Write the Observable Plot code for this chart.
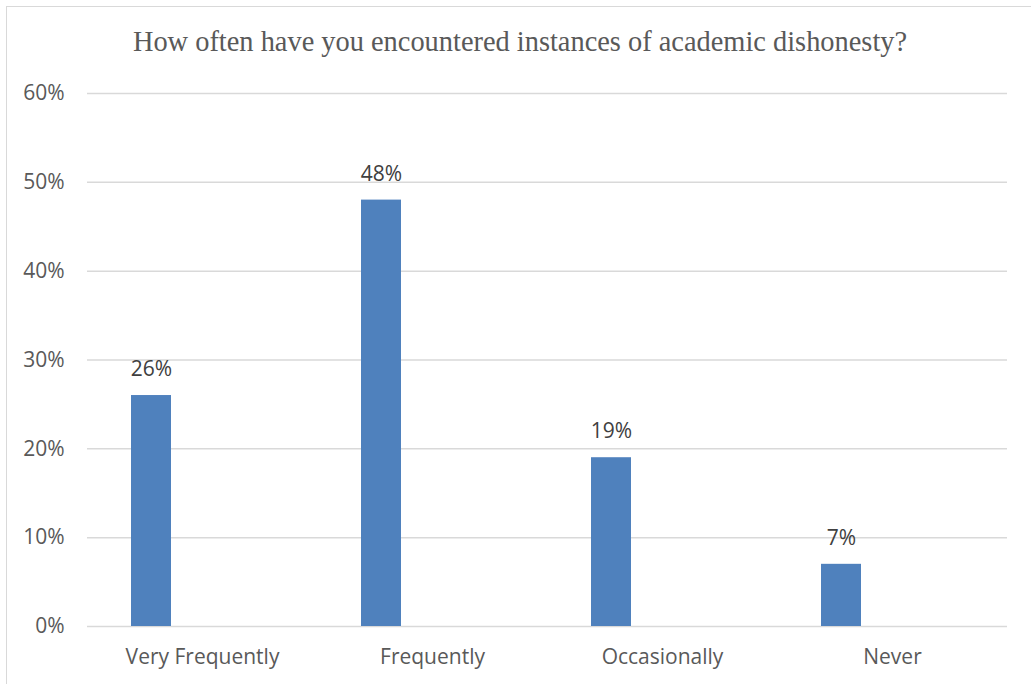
<!DOCTYPE html>
<html>
<head>
<meta charset="utf-8">
<script src="https://cdn.jsdelivr.net/npm/d3@7"></script>
<script src="https://cdn.jsdelivr.net/npm/@observablehq/plot@0.6"></script>
<style>
  html, body { margin: 0; padding: 0; background: #fff; overflow: hidden; }
  #frame { position: absolute; left: 6px; top: 6px; width: 1040px; height: 700px; border: 1px solid #d9d9d9; box-sizing: border-box; }
  #title { position: absolute; left: 0; top: 26px; width: 1040px; text-align: center; font-family: "Liberation Serif", serif; font-size: 28.4px; color: #595959; white-space: nowrap; }
  #plot { position: absolute; left: 0; top: 70px; }
</style>
</head>
<body>
<div id="frame"></div>
<div id="title">How often have you encountered instances of academic dishonesty?</div>
<div id="plot"></div>
<script>
const categories = ["Very Frequently", "Frequently", "Occasionally", "Never"];
const values = [0.26, 0.48, 0.19, 0.07];
const yTicks = [0, 0.1, 0.2, 0.3, 0.4, 0.5, 0.6];

const data = categories.map((c, i) => ({category: c, value: values[i]}));
const pct = d3.format(".0%");

const chart = Plot.plot({
  width: 1031,
  height: 614,
  marginTop: 23,
  marginBottom: 58,
  marginLeft: 87,
  marginRight: 24,
  style: {fontFamily: "'Open Sans', sans-serif", fontSize: "21px", color: "#595959", background: "transparent"},
  x: {domain: categories, padding: 0, label: null, tickSize: 0, tickPadding: 23},
  y: {domain: [0, 0.6], ticks: yTicks, tickFormat: pct, label: null, tickSize: 0, tickPadding: 23},
  marks: [
    Plot.gridY(yTicks, {stroke: "#d9d9d9", strokeOpacity: 1, strokeWidth: 1.5}),
    Plot.barY(data, {x: "category", y: "value", fill: "#4f81bd", insetLeft: 44, insetRight: 146}),
    Plot.text(data, {x: "category", y: "value", text: d => pct(d.value), dx: -51, dy: -26, fill: "#404040", fontSize: 21})
  ]
});
document.getElementById("plot").appendChild(chart);
</script>
</body>
</html>
